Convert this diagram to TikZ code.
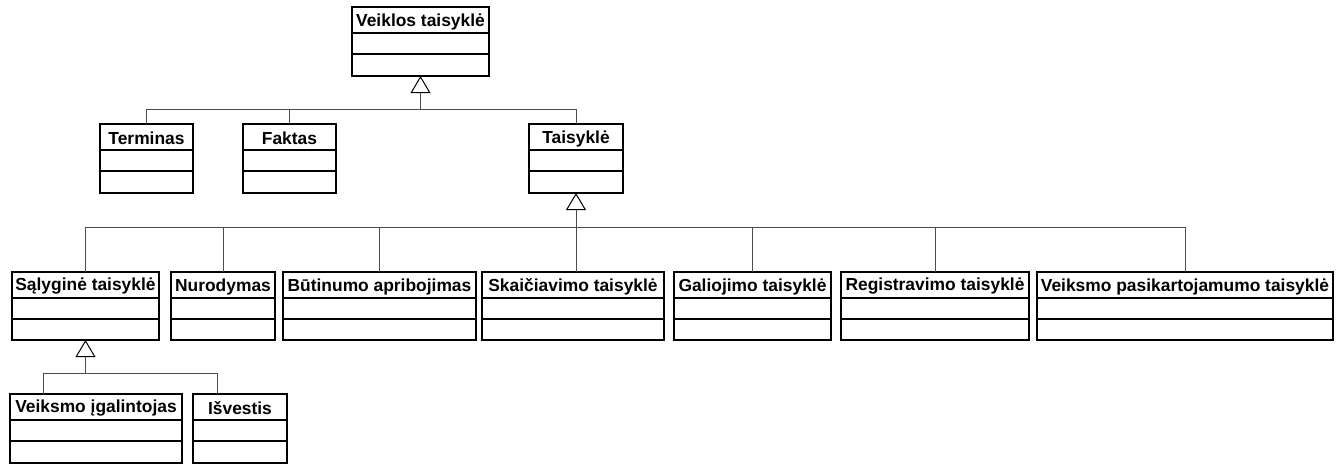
\documentclass[tikz,border=0pt]{standalone}
\usepackage{fontspec}
\setmainfont{Liberation Sans}
\usetikzlibrary{calc,arrows.meta}

\tikzset{
  x=1pt, y=-1pt,
  classbox/.style={draw=black, line width=1.2pt, fill=white, inner sep=0pt, outer sep=0pt, anchor=north west},
  classtitle/.style={font=\fontsize{17.4}{20}\selectfont\bfseries, inner sep=0pt, anchor=center},
  sepline/.style={draw=black, line width=1.2pt},
  conn/.style={draw=black!70, line width=1pt},
  gen/.style={conn, -{Triangle[open, length=17pt, width=20pt, line width=1pt, color=black]}},
}

% UML class box: name, left, top, right, bottom, title
\newcommand\umlclass[6]{%
  \node[classbox, minimum width={(#4-#2)*1pt}, minimum height={(#5-#3)*1pt}] (#1) at (#2,#3) {};
  \node[classtitle] (#1-title) at ($(#1.north)+(0,14.5)$) {#6};
  \draw[sepline] ($(#1.north west)+(0,26)$) -- ($(#1.north east)+(0,26)$);
  \draw[sepline] ($(#1.north west)+(0,47)$) -- ($(#1.north east)+(0,47)$);
}

\begin{document}
\begin{tikzpicture}
  \useasboundingbox (0,0) rectangle (1344,464);

  % classes
  \umlclass{vt}{352}{7}{489}{76}{Veiklos taisyklė}
  \umlclass{term}{100}{124}{193}{193}{Terminas}
  \umlclass{fakt}{243}{124}{336}{193}{Faktas}
  \umlclass{tais}{529}{124}{623}{193}{Taisyklė}

  \umlclass{sal}{12}{272}{159}{340}{Sąlyginė taisyklė}
  \umlclass{nur}{171}{272}{275}{340}{Nurodymas}
  \umlclass{but}{283}{272}{476}{340}{Būtinumo apribojimas}
  \umlclass{ska}{482}{272}{664}{340}{Skaičiavimo taisyklė}
  \umlclass{gal}{674}{272}{831}{340}{Galiojimo taisyklė}
  \umlclass{reg}{841}{272}{1029}{340}{Registravimo taisyklė}
  \umlclass{vpt}{1037}{272}{1333}{340}{Veiksmo pasikartojamumo taisyklė}

  \umlclass{vig}{10}{394}{182}{463}{Veiksmo įgalintojas}
  \umlclass{isv}{193}{394}{287}{463}{Išvestis}

  % generalisation: Veiklos taisyklė
  \coordinate (j1) at ($(vt.south)+(0,33)$);
  \draw[conn] (term.north) |- (j1);
  \draw[conn] (fakt.north) |- (j1);
  \draw[conn] (tais.north) |- (j1);
  \draw[gen] (j1) -- (vt.south);

  % generalisation: Taisyklė
  \coordinate (j2) at ($(tais.south)+(0,34)$);
  \draw[conn] (sal.north) |- (j2);
  \draw[conn] (nur.north) |- (j2);
  \draw[conn] (but.north) |- (j2);
  \draw[conn] (ska.north -| j2) -- (j2);
  \draw[conn] (gal.north) |- (j2);
  \draw[conn] (reg.north) |- (j2);
  \draw[conn] (vpt.north) |- (j2);
  \draw[gen] (j2) -- (tais.south);

  % generalisation: Sąlyginė taisyklė
  \coordinate (j3) at ($(sal.south)+(0,33)$);
  \coordinate (vig-top) at ($(vig.north west)+(33,0)$);
  \coordinate (isv-top) at ($(isv.north west)+(24,0)$);
  \draw[conn] (vig-top) |- (j3);
  \draw[conn] (isv-top) |- (j3);
  \draw[gen] (j3) -- (sal.south);
\end{tikzpicture}
\end{document}
